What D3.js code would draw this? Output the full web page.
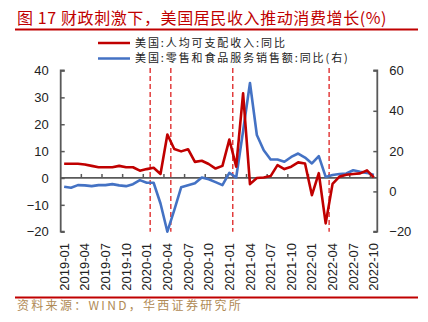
<!DOCTYPE html>
<html><head><meta charset="utf-8">
<script src="https://cdn.jsdelivr.net/npm/d3@7"></script>
<style>body{margin:0;background:#fff}svg{display:block}</style>
</head><body><svg id="c" width="428" height="322"></svg>
<script>
const months = [];
for (let y = 2019; y <= 2022; y++) for (let m = 1; m <= 12; m++) { if (y === 2022 && m > 10) break; months.push(y + "-" + String(m).padStart(2, "0")); }
const incomeYoY = [5.3,5.3,5.3,5.0,4.5,4.0,4.0,4.0,4.5,4.0,4.0,2.7,3.3,3.8,1.5,16.2,10.8,9.9,10.7,6.0,6.4,5.2,3.5,4.5,14.3,4.2,31.5,-2.3,0,0.2,0.7,4.8,3.3,4.2,5.8,5.4,-6.4,1.8,-16.9,-2.2,0.5,1.2,1.5,1.7,2.8,0.2];
const retailYoY = [2.3,1.8,3.1,3.0,2.6,3.1,3.1,3.6,3.0,2.6,3.6,5.6,4.3,4.3,-6,-20,-9.3,2,3,4,6.9,6.0,4.6,3.1,9.2,6.9,30,53.8,28,20.4,15.8,15.8,14.7,17.1,18.8,16.8,13.9,17.5,7.2,8.1,8.6,8.9,10.5,9.7,9.2,8.1];
const markerMonths = ["2020-01","2020-04","2021-01","2022-03"];
const leftTicks = [-20,-10,0,10,20,30,40];
const rightTicks = [-20,0,20,40,60];
const seriesNames = ["美国:人均可支配收入:同比","美国:零售和食品服务销售额:同比(右)"];
const titleText = "图 17 财政刺激下，美国居民收入推动消费增长(%)";
const sourceText = "资料来源：WIND，华西证券研究所";

const svg = d3.select("#c");
const L = 60.7, R = 377.3, T = 70.5, B = 231.7;
const x = d3.scalePoint().domain(months).range([L, R]).padding(0.5);
const step = x.step();
const yL = d3.scaleLinear().domain([-20, 40]).range([B, T]);
const yR = d3.scaleLinear().domain([-20, 60]).range([B, T]);
const red = "#c00000", blue = "#4472c4", axisCol = "#595959";
const cjk = "'Noto Sans CJK SC', sans-serif";

// title
svg.append("text").attr("x", 17).attr("y", 24).attr("font-family", cjk).attr("font-size", 16)
  .attr("letter-spacing", 0.6).attr("fill", red).text(titleText);
svg.append("line").attr("x1", 15).attr("x2", 418).attr("y1", 29.5).attr("y2", 29.5).attr("stroke", red).attr("stroke-width", 2);
// bottom rule + source
svg.append("line").attr("x1", 15).attr("x2", 418).attr("y1", 297.5).attr("y2", 297.5).attr("stroke", red).attr("stroke-width", 2);
svg.append("text").attr("x", 17).attr("y", 310).attr("font-family", cjk).attr("font-size", 12)
  .attr("letter-spacing", 2.3).attr("fill", "#b08a55").text(sourceText);

// legend
const leg = svg.append("g");
[[red, 43], [blue, 58.5]].forEach((d, i) => {
  leg.append("line").attr("x1", 98).attr("x2", 130).attr("y1", d[1]).attr("y2", d[1]).attr("stroke", d[0]).attr("stroke-width", 2.5);
  leg.append("text").attr("x", 135).attr("y", d[1]).attr("dy", "0.36em").attr("font-family", cjk)
    .attr("font-size", 11).attr("letter-spacing", 1.9).attr("fill", "#222").text(seriesNames[i]);
});

// left axis
const gl = svg.append("g").attr("transform", `translate(${L},0)`)
  .call(d3.axisRight(yL).tickValues(leftTicks).tickSize(4).tickFormat(d => d < 0 ? "\u2212" + Math.abs(d) : d));
gl.select(".domain").attr("stroke", axisCol).attr("stroke-width", 1.8).attr("d", `M4,${T}H0V${B}H4`);
gl.selectAll(".tick line").attr("stroke", axisCol).attr("stroke-width", 1.5);
gl.selectAll(".tick text").attr("x", -12).attr("text-anchor", "end").attr("font-family", "'Liberation Sans', Arial, sans-serif").attr("font-size", 13).attr("fill", "#222");

// right axis
const gr = svg.append("g").attr("transform", `translate(${R},0)`)
  .call(d3.axisLeft(yR).tickValues(rightTicks).tickSize(4).tickFormat(d => d < 0 ? "\u2212" + Math.abs(d) : d));
gr.select(".domain").attr("stroke", axisCol).attr("stroke-width", 1.8).attr("d", `M-4,${T}H0V${B}H-4`);
gr.selectAll(".tick line").attr("stroke", axisCol).attr("stroke-width", 1.5);
gr.selectAll(".tick text").attr("x", 12).attr("text-anchor", "start").attr("font-family", "'Liberation Sans', Arial, sans-serif").attr("font-size", 13).attr("fill", "#222");

// x axis (at left zero)
const y0 = yL(0);
svg.append("line").attr("x1", L).attr("x2", R).attr("y1", y0).attr("y2", y0).attr("stroke", axisCol).attr("stroke-width", 1.8);
const tickIdx = d3.range(3, months.length, 3);
svg.selectAll(".xt").data(tickIdx).join("line")
  .attr("x1", i => x(months[i]) - step / 2).attr("x2", i => x(months[i]) - step / 2)
  .attr("y1", y0).attr("y2", y0 - 4).attr("stroke", axisCol).attr("stroke-width", 1.5);
const labelMonths = months.filter((m, i) => i % 3 === 0);
svg.selectAll(".xl").data(labelMonths).join("text")
  .attr("transform", d => `translate(${x(d)},243) rotate(-90)`)
  .attr("text-anchor", "end").attr("dy", "0.35em")
  .attr("font-family", "'Liberation Sans', Arial, sans-serif").attr("font-size", 13).attr("fill", "#222")
  .text(d => d);

// vertical dashed markers
svg.selectAll(".vm").data(markerMonths).join("line")
  .attr("x1", d => x(d) + step / 2).attr("x2", d => x(d) + step / 2)
  .attr("y1", 68).attr("y2", B).attr("stroke", "#e03030").attr("stroke-width", 1.4).attr("stroke-dasharray", "5,3");

// series
const lineL = d3.line().x((d, i) => x(months[i])).y(d => yL(d));
const lineR = d3.line().x((d, i) => x(months[i])).y(d => yR(d));
svg.append("path").attr("d", lineR(retailYoY)).attr("fill", "none").attr("stroke", blue).attr("stroke-width", 2.6).attr("stroke-linejoin", "round");
svg.append("path").attr("d", lineL(incomeYoY)).attr("fill", "none").attr("stroke", red).attr("stroke-width", 2.6).attr("stroke-linejoin", "round");
</script></body></html>
